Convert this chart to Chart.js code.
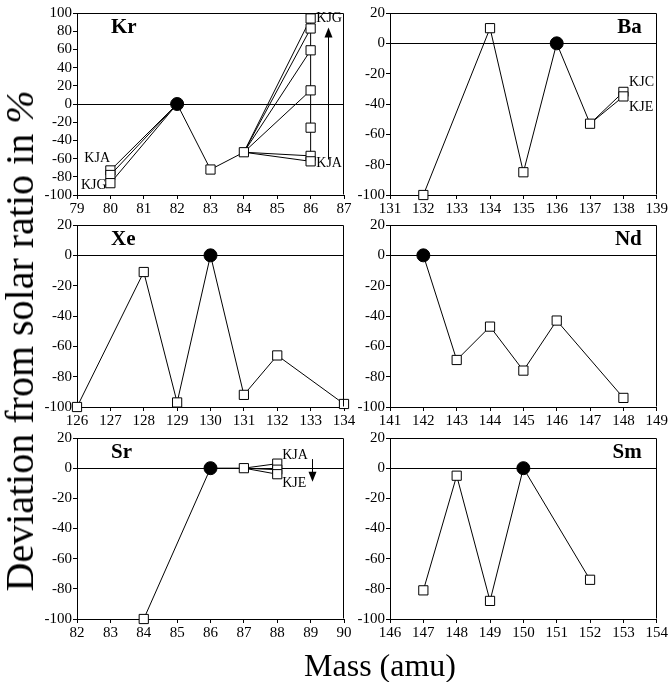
<!DOCTYPE html>
<html><head><meta charset="utf-8">
<script src="https://cdn.jsdelivr.net/npm/chart.js@4.4.1/dist/chart.umd.min.js"></script>
<style>
html,body{margin:0;padding:0;background:#fff;}
body{width:669px;height:682px;position:relative;overflow:hidden;}
canvas{position:absolute;left:0;top:0;}
.t{position:absolute;font-family:'Liberation Serif','Times New Roman',serif;color:#000;white-space:nowrap;line-height:1;}
#ytitle{font-size:40px;left:20px;top:341px;transform:translate(-50%,-50%) rotate(-90deg);}
#xtitle{font-size:32px;left:380px;top:649px;transform:translateX(-50%);}
</style></head><body>
<canvas id="cKr" width="669" height="682"></canvas>
<canvas id="cBa" width="669" height="682"></canvas>
<canvas id="cXe" width="669" height="682"></canvas>
<canvas id="cNd" width="669" height="682"></canvas>
<canvas id="cSr" width="669" height="682"></canvas>
<canvas id="cSm" width="669" height="682"></canvas>
<div class="t" id="ytitle">Deviation from solar ratio in <i>%</i></div>
<div class="t" id="xtitle">Mass (amu)</div>
<script>
// ---------------- data ----------------
// Kr
const krRef = 82;
const krMass80 = 80;
const krDev80 = [-73, -78, -87];            // samples at mass 80 (KJA top ... KJG bottom)
const krCoreMass = [82, 83, 84];
const krCoreDev = [0, -72, -53];
const krMass86 = 86;
const krDev86 = [94, 83, 59, 15, -26, -57, -63];   // all samples at mass 86
const krDev86Linked = [94, 83, 59, 15, -57, -63];  // those joined to mass 84
// Ba
const baRef = 136;
const baMass = [132, 134, 135, 136, 137, 138];
const baDev = [-100, 10, -85, 0, -53, -32];        // KJC at 138
const baMassAlt = [137, 138];
const baDevAlt = [-53, -35];                       // KJE at 138
// Xe
const xeRef = 130;
const xeMass = [126, 128, 129, 130, 131, 132, 134];
const xeDev = [-100, -11, -97, 0, -92, -66, -98];
// Nd
const ndRef = 142;
const ndMass = [142, 143, 144, 145, 146, 148];
const ndDev = [0, -69, -47, -76, -43, -94];
// Sr
const srRef = 86;
const srMass = [84, 86, 87];
const srDev = [-100, 0, 0];
const srMass88 = 88;
const srDev88 = [3, -1, -4];
// Sm
const smRef = 150;
const smMass = [147, 148, 149, 150, 152];
const smDev = [-81, -5, -88, 0, -74];

// axis ranges / ticks
const krX = [79, 87], baX = [131, 139], xeX = [126, 134], ndX = [141, 149], srX = [82, 90], smX = [146, 154];
const krY = [-100, 100], otherY = [-100, 20];
const yStep = 20, xStep = 1;

// ---------------- helpers ----------------
const W = 669, H = 682, YW = 40, XH = 22;
const SERIF = "'Liberation Serif','Times New Roman',serif";
const pts = (xs, ys) => xs.map((x, i) => ({x, y: ys[i]}));
const lineDs = data => ({data, showLine: true, pointRadius: 0, borderColor: '#000', borderWidth: 1, order: 3, clip: false});
const sqDs = data => ({data, showLine: false, pointStyle: 'rect', pointRadius: 6.5, backgroundColor: '#fff', borderColor: '#000', pointBorderWidth: 1, order: 1, clip: false});
const refDs = x => ({data: [{x, y: 0}], showLine: false, pointStyle: 'circle', pointRadius: 6.5, backgroundColor: '#000', borderColor: '#000', pointBorderWidth: 1, order: 0, clip: false});
const squaresOf = (xs, ys, ref) => pts(xs, ys).filter(p => p.x !== ref);

const deco = {
  id: 'deco',
  afterDatasetsDraw(chart) {
    const o = chart.options.plugins.deco;
    const {ctx, chartArea: a, scales: {x, y}} = chart;
    ctx.save();
    ctx.strokeStyle = '#000'; ctx.lineWidth = 1;
    ctx.beginPath();
    const L = Math.round(a.left) + 0.5, R = Math.round(a.right) - 0.5, T = Math.round(a.top) + 0.5, B = Math.round(a.bottom) - 0.5;
    ctx.moveTo(L, T); ctx.lineTo(R, T); ctx.lineTo(R, B);
    ctx.stroke();
    // panel name
    ctx.fillStyle = '#000';
    ctx.font = 'bold 21px ' + SERIF;
    ctx.textBaseline = 'alphabetic';
    if (o.nameSide === 'left') { ctx.textAlign = 'left'; ctx.fillText(o.name, a.left + 34, a.top + 20); }
    else { ctx.textAlign = 'right'; ctx.fillText(o.name, a.right - 15, a.top + 20); }
    // small labels
    ctx.font = '14px ' + SERIF;
    ctx.textAlign = 'left'; ctx.textBaseline = 'middle';
    (o.labels || []).forEach(l => ctx.fillText(l.text, x.getPixelForValue(l.x), y.getPixelForValue(l.y)));
    // arrows
    (o.arrows || []).forEach(ar => {
      const px = Math.round(x.getPixelForValue(ar.x)) + 0.5;
      const p1 = y.getPixelForValue(ar.from), p2 = y.getPixelForValue(ar.to);
      const dir = p2 < p1 ? -1 : 1;
      ctx.beginPath(); ctx.moveTo(px, p1); ctx.lineTo(px, p2 - dir * 9); ctx.stroke();
      ctx.beginPath(); ctx.moveTo(px, p2); ctx.lineTo(px - 4, p2 - dir * 10); ctx.lineTo(px + 4, p2 - dir * 10); ctx.closePath(); ctx.fill();
    });
    ctx.restore();
  }
};

function panel(id, box, xr, yr, datasets, decoOpts) {
  const font = {family: SERIF, size: 15};
  return new Chart(document.getElementById(id), {
    type: 'scatter',
    data: {datasets},
    plugins: [deco],
    options: {
      responsive: false, animation: false, devicePixelRatio: 1,
      layout: {padding: {left: box.l - YW, top: box.t, right: W - box.r, bottom: H - box.b - XH}},
      plugins: {legend: {display: false}, tooltip: {enabled: false}, deco: decoOpts},
      elements: {line: {tension: 0}},
      scales: {
        x: {type: 'linear', min: xr[0], max: xr[1],
            afterFit: s => { s.height = XH; },
            ticks: {stepSize: xStep, font, color: '#000', padding: 1, maxRotation: 0, autoSkip: false},
            grid: {drawOnChartArea: false, tickLength: 4, color: '#000', tickColor: '#000'},
            border: {color: '#000', width: 1}},
        y: {type: 'linear', min: yr[0], max: yr[1],
            afterFit: s => { s.width = YW; },
            ticks: {stepSize: yStep, font, color: '#000', padding: 1, autoSkip: false},
            grid: {tickLength: 4, tickColor: '#000', color: c => (c.tick && c.tick.value === 0) ? '#000' : 'rgba(0,0,0,0)'},
            border: {color: '#000', width: 1}}
      }
    }
  });
}

const LC = {l: 77, r: 344}, RC = {l: 390, r: 657};
const R1 = {t: 13, b: 195}, R2 = {t: 225, b: 407}, R3 = {t: 438, b: 619};
const box = (c, r) => ({l: c.l, r: c.r, t: r.t, b: r.b});

// Kr
const krSets = [refDs(krRef),
  sqDs([...krDev80.map(v => ({x: krMass80, y: v})), ...squaresOf(krCoreMass, krCoreDev, krRef), ...krDev86.map(v => ({x: krMass86, y: v}))]),
  ...krDev80.map(v => lineDs([{x: krMass80, y: v}, {x: krRef, y: 0}])),
  lineDs(pts(krCoreMass, krCoreDev)),
  ...krDev86Linked.map(v => lineDs([{x: krCoreMass[2], y: krCoreDev[2]}, {x: krMass86, y: v}])),
  lineDs([{x: krMass86, y: Math.min(...krDev86)}, {x: krMass86, y: Math.max(...krDev86)}])
];
panel('cKr', box(LC, R1), krX, krY, krSets, {name: 'Kr', nameSide: 'left',
  labels: [{text: 'KJG', x: 86.17, y: 94}, {text: 'KJA', x: 86.17, y: -65}, {text: 'KJA', x: 79.22, y: -60}, {text: 'KJG', x: 79.12, y: -89}],
  arrows: [{x: 86.52, from: -61, to: 84}]});

// Ba
panel('cBa', box(RC, R1), baX, otherY, [refDs(baRef),
  sqDs([...squaresOf(baMass, baDev, baRef), ...squaresOf(baMassAlt, baDevAlt, 137)]),
  lineDs(pts(baMass, baDev)), lineDs(pts(baMassAlt, baDevAlt))
], {name: 'Ba', nameSide: 'right', labels: [{text: 'KJC', x: 138.17, y: -26}, {text: 'KJE', x: 138.17, y: -42}]});

// Xe
panel('cXe', box(LC, R2), xeX, otherY, [refDs(xeRef), sqDs(squaresOf(xeMass, xeDev, xeRef)), lineDs(pts(xeMass, xeDev))],
  {name: 'Xe', nameSide: 'left'});

// Nd
panel('cNd', box(RC, R2), ndX, otherY, [refDs(ndRef), sqDs(squaresOf(ndMass, ndDev, ndRef)), lineDs(pts(ndMass, ndDev))],
  {name: 'Nd', nameSide: 'right'});

// Sr
panel('cSr', box(LC, R3), srX, otherY, [refDs(srRef),
  sqDs([...squaresOf(srMass, srDev, srRef), ...srDev88.map(v => ({x: srMass88, y: v}))]),
  lineDs(pts(srMass, srDev)),
  ...srDev88.map(v => lineDs([{x: srMass[2], y: srDev[2]}, {x: srMass88, y: v}]))
], {name: 'Sr', nameSide: 'left', labels: [{text: 'KJA', x: 88.15, y: 8.5}, {text: 'KJE', x: 88.15, y: -10}],
  arrows: [{x: 89.05, from: 6, to: -9}]});

// Sm
panel('cSm', box(RC, R3), smX, otherY, [refDs(smRef), sqDs(squaresOf(smMass, smDev, smRef)), lineDs(pts(smMass, smDev))],
  {name: 'Sm', nameSide: 'right'});
</script>
</body></html>
